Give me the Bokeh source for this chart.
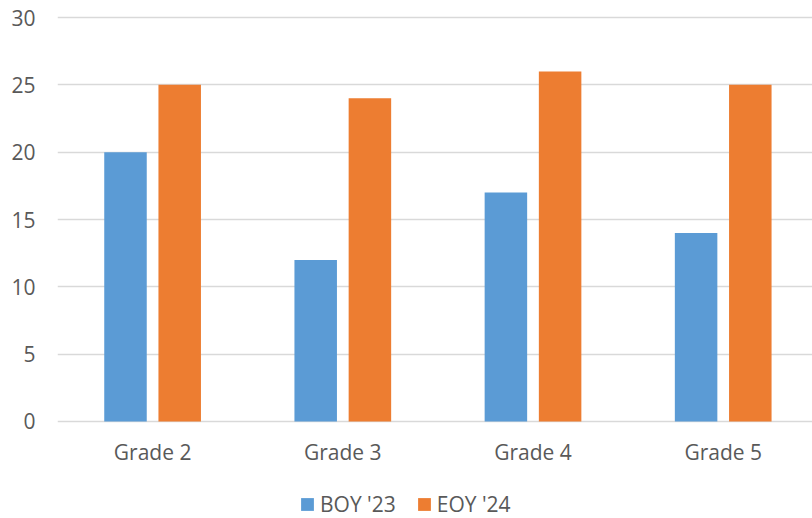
from bokeh.plotting import figure
from bokeh.models import ColumnDataSource, Range1d, FixedTicker, Legend, LegendItem
from bokeh.layouts import column
from bokeh.transform import dodge
from bokeh.embed import file_html
from bokeh.resources import INLINE

categories = ["Grade 2", "Grade 3", "Grade 4", "Grade 5"]
boy_23 = [20, 12, 17, 14]
eoy_24 = [25, 24, 26, 25]
y_ticks = [0, 5, 10, 15, 20, 25, 30]
series_names = ["BOY '23", "EOY '24"]
colors = ["#5B9BD5", "#ED7D31"]

xpos = [i + 0.5 for i in range(len(categories))]
src = ColumnDataSource(dict(x=xpos, boy=boy_23, eoy=eoy_24, cat=categories))

FONT = "Open Sans"
TXT = "#595959"

p = figure(width=812, height=470, output_backend="svg", toolbar_location=None,
           x_range=Range1d(0, 3.9695), y_range=Range1d(-0.15, 30.15),
           min_border_left=57, min_border_right=0, min_border_top=15, min_border_bottom=47)
p.outline_line_color = None

p.vbar(x=dodge("x", -0.1425), top="boy", width=0.2235, source=src,
       fill_color=colors[0], line_color=None)
p.vbar(x=dodge("x", 0.1425), top="eoy", width=0.2235, source=src,
       fill_color=colors[1], line_color=None)

p.xgrid.grid_line_color = None
p.ygrid.grid_line_color = "#d9d9d9"
p.ygrid.grid_line_width = 1.5
p.yaxis.ticker = FixedTicker(ticks=y_ticks)
p.xaxis.ticker = FixedTicker(ticks=xpos)
p.xaxis.major_label_overrides = {x: c for x, c in zip(xpos, categories)}

for ax in (p.xaxis[0], p.yaxis[0]):
    ax.axis_line_color = None
    ax.major_tick_line_color = None
    ax.minor_tick_line_color = None
    ax.major_label_text_font = FONT
    ax.major_label_text_font_size = "21px"
    ax.major_label_text_color = TXT
p.yaxis.major_label_standoff = 16
p.xaxis.major_label_standoff = 8

# legend strip
lg = figure(width=812, height=48, output_backend="svg", toolbar_location=None,
            x_range=Range1d(100, 101), y_range=Range1d(100, 101),
            x_axis_location=None, y_axis_location=None,
            min_border_left=0, min_border_right=0, min_border_top=0, min_border_bottom=0)
lg.outline_line_color = None
lg.grid.visible = False
l1 = lg.vbar(x=dodge("x", -0.1425), top="boy", width=0.2235, source=src,
             fill_color=colors[0], line_color=None)
l2 = lg.vbar(x=dodge("x", 0.1425), top="eoy", width=0.2235, source=src,
             fill_color=colors[1], line_color=None)
legend = Legend(items=[LegendItem(label=series_names[0], renderers=[l1]),
                       LegendItem(label=series_names[1], renderers=[l2])],
                orientation="horizontal", location=(242, 0),
                border_line_color=None, background_fill_alpha=0,
                glyph_width=16, glyph_height=16, label_standoff=5, spacing=20,
                label_text_font=FONT, label_text_font_size="21px",
                label_text_color=TXT, margin=0, padding=0)
lg.add_layout(legend, "center")

open("out.html", "w").write(file_html(column(p, lg, spacing=0), INLINE))
